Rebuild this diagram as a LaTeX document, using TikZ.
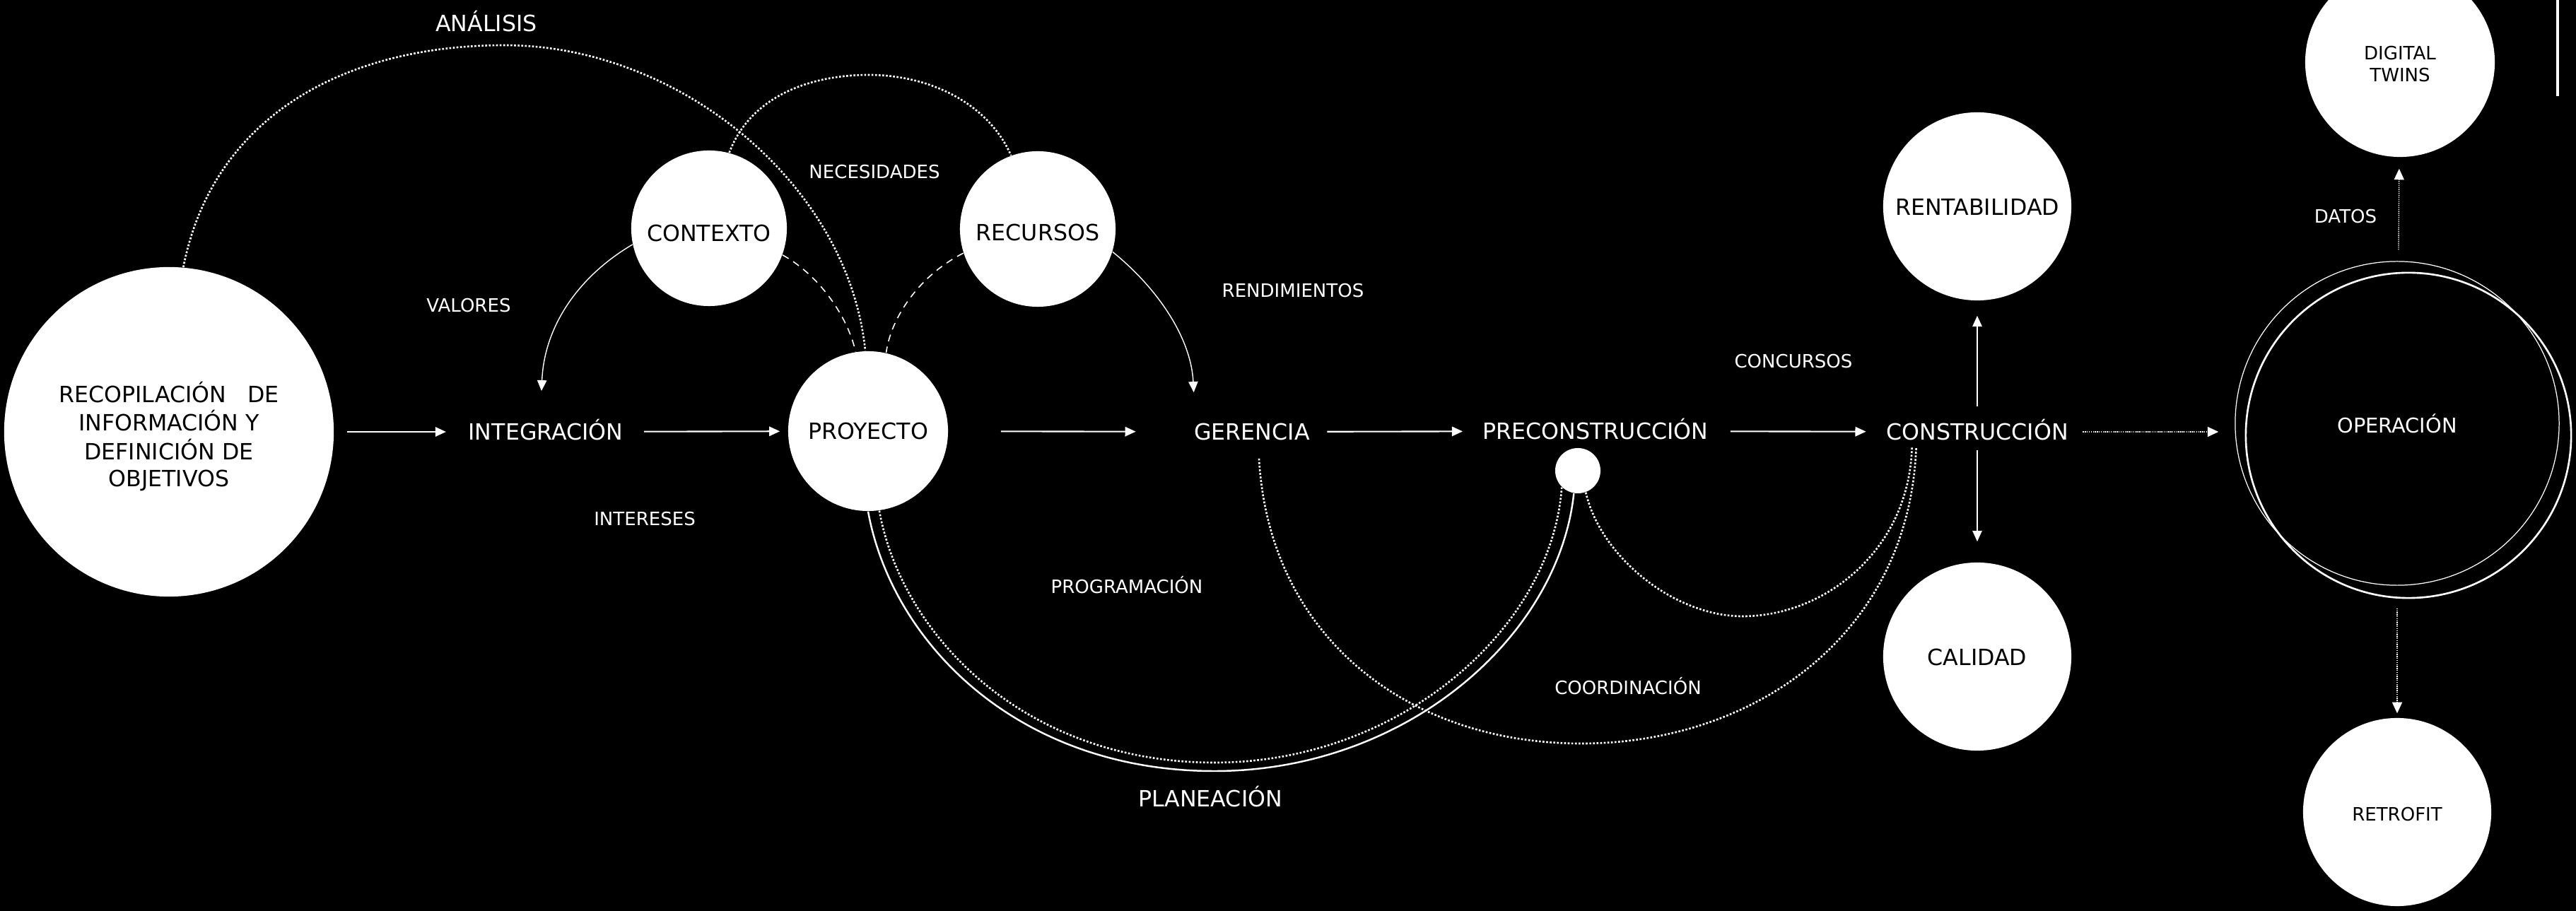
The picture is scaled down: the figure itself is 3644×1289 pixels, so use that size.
\documentclass[tikz,border=0pt]{standalone}
\usepackage{fontspec}
\setmainfont{DejaVu Sans}
\usetikzlibrary{arrows.meta,calc}
\begin{document}
\begin{tikzpicture}[x=0.01cm,y=-0.01cm,
  big/.style={text=white,font=\fontsize{9}{10.8}\selectfont,inner sep=0pt,text height=6.6pt,text depth=0pt},
  small/.style={text=white,font=\fontsize{7.4}{8.8}\selectfont,inner sep=0pt,text height=5.4pt,text depth=0pt},
  bub/.style={circle,fill=white,text=black,inner sep=0pt,font=\fontsize{9}{10.8}\selectfont},
  arr/.style={white,line width=0.6pt,-{Triangle[length=4.3pt,width=3.8pt]}},
  thinarr/.style={white,line width=0.4pt,-{Triangle[length=4.3pt,width=3.8pt]}},
  dotarr/.style={white,line width=0.4pt,dash pattern=on 0.4pt off 0.4pt,-{Triangle[length=4.4pt,width=4pt]}},
  dots/.style={white,line width=0.75pt,dash pattern=on 0.75pt off 0.7pt},
  dashline/.style={white,line width=0.45pt,dash pattern=on 2.8pt off 2.2pt}]
\useasboundingbox (0,0) rectangle (3644,1289);
\fill[black] (0,0) rectangle (3644,1289);
\clip (0,0) rectangle (3644,1289);

% main chain
\node[bub,minimum size=4.66cm] (recop) at (239,611)
  {\raisebox{-2.5pt}[\height][\depth]{\begin{tabular}{@{}c@{}}RECOPILACIÓN\hspace{0.95em}DE\\INFORMACIÓN Y\\DEFINICIÓN DE\\OBJETIVOS\end{tabular}}};
\node[big] (integ) at (772,611) {INTEGRACIÓN};
\node[bub,minimum size=2.2cm] (ctx) at (1003,323) {\raisebox{-2pt}[\height][\depth]{CONTEXTO}};
\node[bub,minimum size=2.2cm] (rec) at (1468,324) {\raisebox{-1.5pt}[\height][\depth]{RECURSOS}};
\node[bub,minimum size=2.26cm] (proy) at (1228,610) {PROYECTO};
\node[big] (ger) at (1771,611) {GERENCIA};
\node[big] (pre) at (2257,610) {PRECONSTRUCCIÓN};
\node[circle,fill=white,minimum size=0.64cm,inner sep=0pt] (pc) at (2232,666) {};
\node[big] (constr) at (2797,611) {CONSTRUCCIÓN};
\node[bub,minimum size=2.66cm] (rent) at (2797,292) {\raisebox{-0.3pt}[\height][\depth]{RENTABILIDAD}};
\node[bub,minimum size=2.66cm] (cal) at (2797,929) {\raisebox{-0.3pt}[\height][\depth]{CALIDAD}};

% operation stage
\node[circle,draw=white,line width=0.35pt,minimum size=4.58cm,inner sep=0pt,text=white,
  font=\fontsize{8.2}{9.8}\selectfont] (oper) at (3391,599) {OPERACIÓN};
\node[circle,draw=white,line width=0.75pt,minimum size=4.6cm,inner sep=0pt] (operring) at (3407,616) {};
\node[bub,minimum size=2.68cm,font=\fontsize{7.4}{8.8}\selectfont] (dt) at (3395,88)
  {\raisebox{-1.7pt}[\height][\depth]{\begin{tabular}{@{}c@{}}DIGITAL\\TWINS\end{tabular}}};
\node[bub,minimum size=2.66cm,font=\fontsize{7.4}{8.8}\selectfont] (retro) at (3391,1149) {\raisebox{-1pt}[\height][\depth]{RETROFIT}};

% labels
\node[big] (lanalisis) at (688,33) {ANÁLISIS};
\node[small] (lvalores) at (663,432) {VALORES};
\node[small] (lintereses) at (912,734) {INTERESES};
\node[small] (lnecesidades) at (1237,243) {NECESIDADES};
\node[small] (lrendimientos) at (1829,411) {RENDIMIENTOS};
\node[small] (lconcursos) at (2537,511) {CONCURSOS};
\node[small] (lprogramacion) at (1594,830) {PROGRAMACIÓN};
\node[small] (lcoordinacion) at (2303,973) {COORDINACIÓN};
\node[big] (lplaneacion) at (1712,1130) {PLANEACIÓN};
\node[small] (ldatos) at (3318,306) {DATOS};

% straight arrows
\draw[arr,shorten <=0.18cm,shorten >=0.31cm] (recop) -- (integ);
\draw[arr,shorten <=0.29cm,shorten >=0.11cm] (integ) -- (proy);
\draw[arr,shorten <=0.74cm,shorten >=0.82cm] (proy) -- (ger);
\draw[arr,shorten <=0.24cm,shorten >=0.28cm] (ger) -- (pre);
\draw[arr,shorten <=0.31cm,shorten >=0.28cm] (pre) -- (constr);
\draw[dotarr,shorten <=0.2cm,shorten >=0.23cm] (constr.east) -- (constr.east -| oper.west);
\draw[thinarr,shorten <=0.36cm,shorten >=0.21cm] (constr.center) -- (rent);
\draw[thinarr,shorten <=0.26cm,shorten >=0.29cm] (constr.center) -- (cal);
\draw[dotarr,shorten <=0.16cm,shorten >=0.16cm] (oper) -- (dt);
\draw[dotarr,shorten <=0.32cm,shorten >=0.06cm] (oper) -- (retro);

% upper arcs
\draw[dots] (recop.85.5) .. controls (300,170) and (480,64) .. (714,64)
  .. controls (960,64) and (1200,260) .. (proy.92);
\draw[dots] (ctx.75) .. controls (1060,140) and (1140,106) .. (1229,106)
  .. controls (1320,106) and (1400,150) .. (rec.110);
\draw[dashline] (ctx.-20) .. controls (1160,390) and (1200,450) .. (proy.99);
\draw[dashline] (rec.198) .. controls (1300,390) and (1260,450) .. (proy.77);
\draw[thinarr] (ctx.192) .. controls (820,390) and (770,460) .. ([xshift=-0.06cm,yshift=0.455cm]integ.north);
\draw[thinarr] (rec.-17) .. controls (1640,410) and (1685,480) .. ([yshift=0.435cm]ger.north west);

% lower arcs
\draw[white,line width=0.7pt] (proy.south) .. controls (1262,910) and (1440,1091) .. (1718,1091)
  .. controls (1990,1091) and (2205,900) .. (pc.260);
\draw[dots] (proy.-82) .. controls (1276,900) and (1450,1079) .. (1718,1079)
  .. controls (1980,1079) and (2195,890) .. (pc.226);
\draw[dots] ([xshift=0.1cm,yshift=-0.255cm]ger.south) .. controls (1795,900) and (1990,1052) .. (2237,1052)
  .. controls (2480,1052) and (2700,900) .. ([xshift=0.43cm,yshift=-0.1cm]constr.south west);
\draw[dots] (pc.-70) .. controls (2265,790) and (2370,872) .. (2465,872)
  .. controls (2580,872) and (2700,780) .. ([xshift=0.37cm,yshift=-0.1cm]constr.south west);

% edge mark
\draw[white,line width=1pt] (3618,0) -- (3618,136);
\end{tikzpicture}
\end{document}
